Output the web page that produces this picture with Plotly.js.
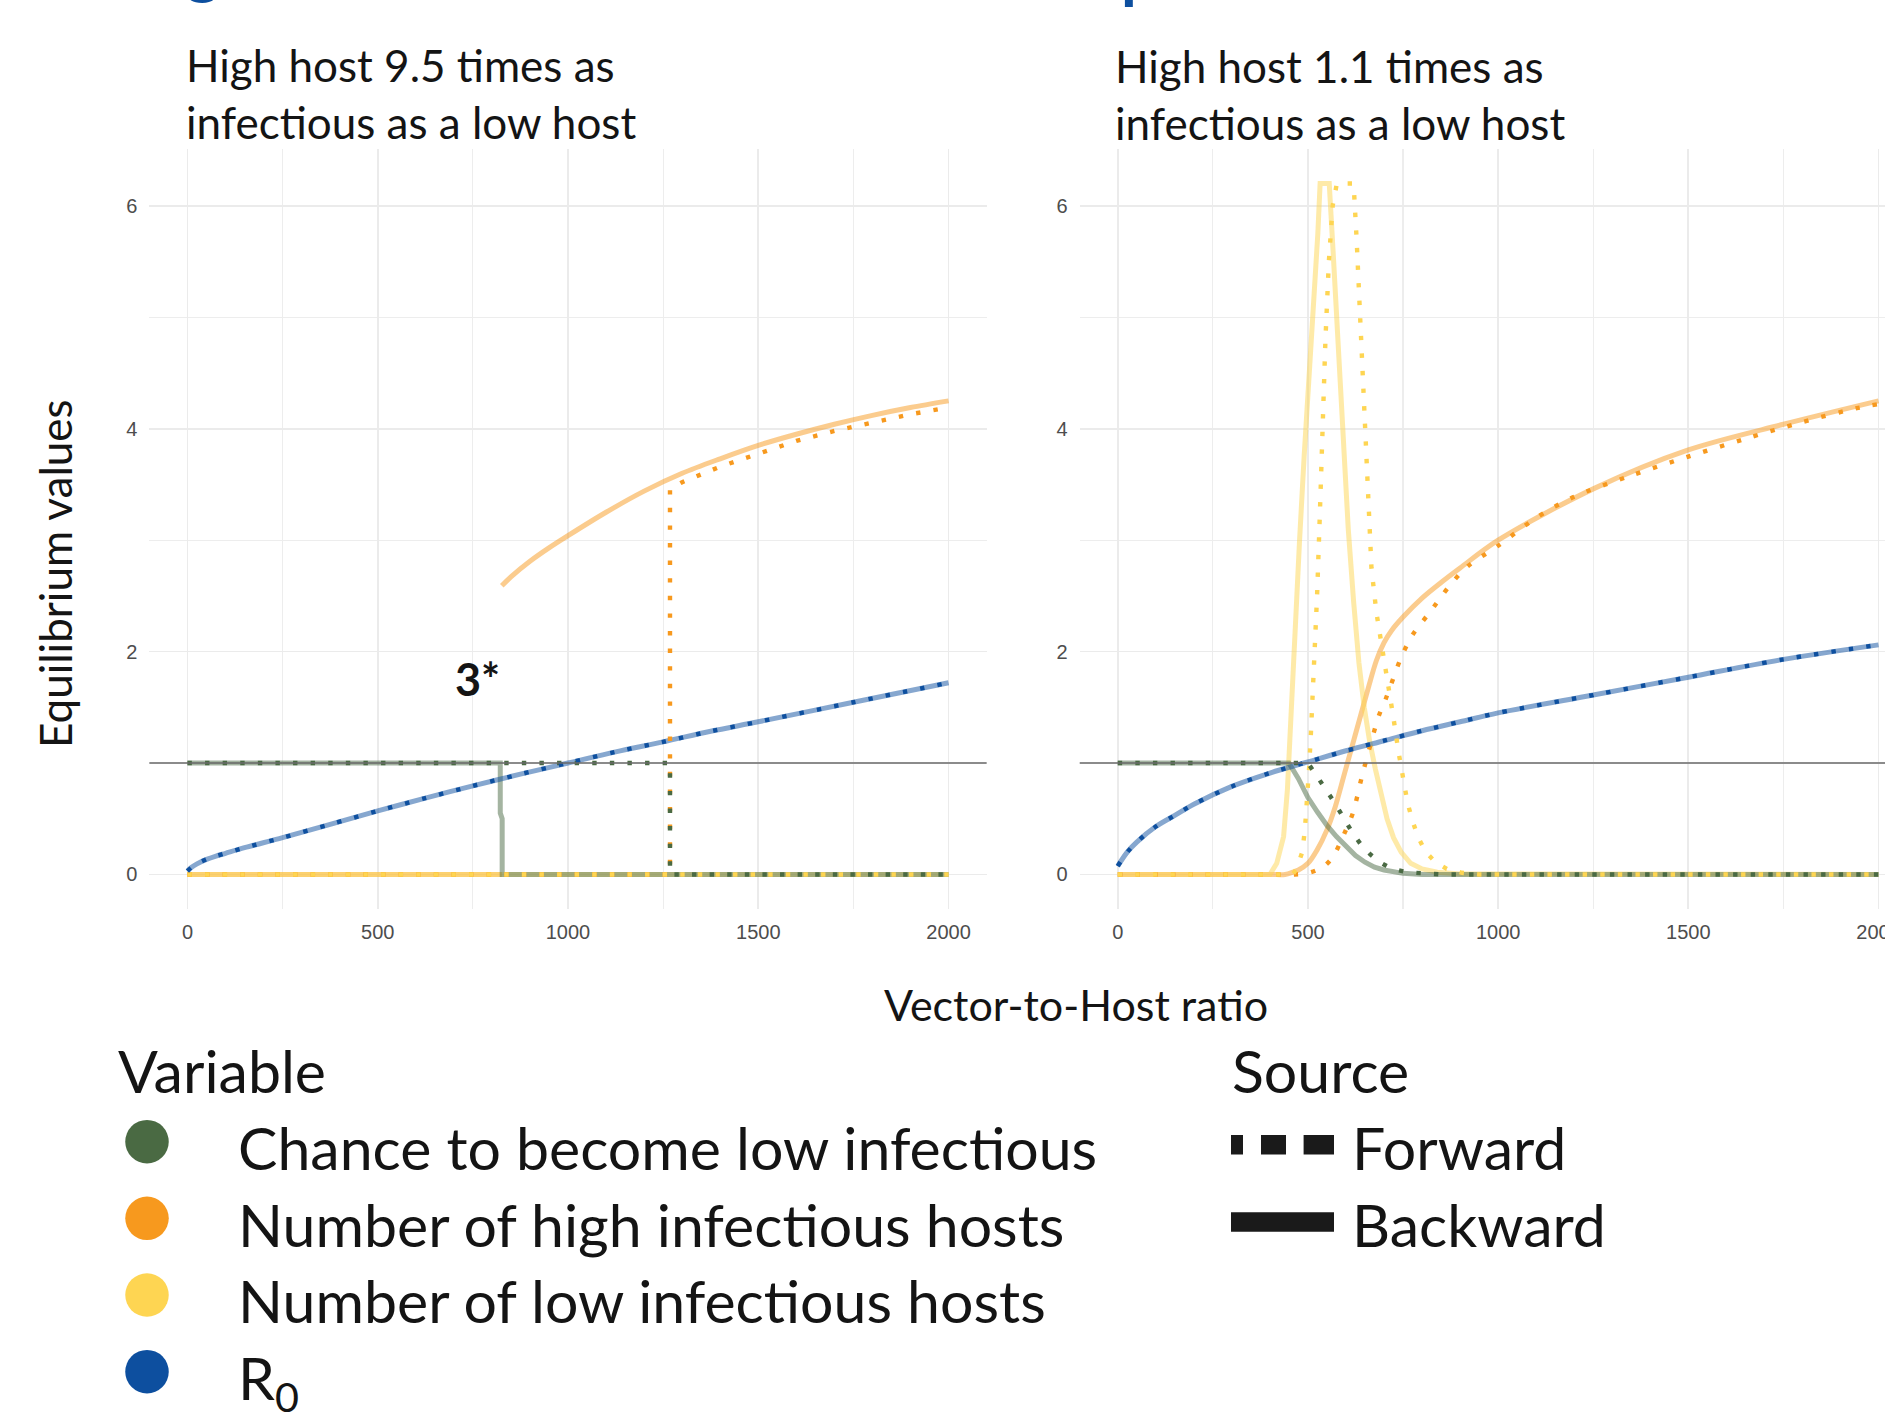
<!DOCTYPE html>
<html>
<head>
<meta charset="utf-8">
<script src="https://cdn.plot.ly/plotly-3.0.1.min.js"></script>
<style>
  html, body { margin: 0; padding: 0; background: #ffffff; }
  #chart { width: 1885px; height: 1412px; }
</style>
</head>
<body>
<div id="chart"></div>
<script>
// ================= DATA =================
const xTickVals = [0, 500, 1000, 1500, 2000];
const yTickVals = [0, 2, 4, 6];
const panelTitles = ["High host 9.5 times as<br>infectious as a low host",
                     "High host 1.1 times as<br>infectious as a low host"];
const xAxisTitle = "Vector-to-Host ratio";
const yAxisTitle = "Equilibrium values";
const variableLegendTitle = "Variable";
const sourceLegendTitle = "Source";
const variableNames = ["Chance to become low infectious", "Number of high infectious hosts",
                       "Number of low infectious hosts", "R<sub>0</sub>"];
const sourceNames = ["Forward", "Backward"];
const noteLabel = "3*";

// ---- Left panel: high host 9.5 times as infectious ----
const leftR0X = [0, 10, 25, 50, 75, 100, 150, 250, 375, 500, 625, 750, 875, 1000, 1125, 1250, 1375, 1500, 1750, 2000];
const leftR0Y = [0.03, 0.062, 0.095, 0.135, 0.165, 0.19, 0.24, 0.33, 0.45, 0.57, 0.685, 0.795, 0.9, 1.0, 1.1, 1.19, 1.285, 1.37, 1.545, 1.72];

const leftChanceBackX = [0, 822, 822, 827, 827, 2000];
const leftChanceBackY = [1, 1, 0.55, 0.5, 0, 0];
const leftChanceFwdX = [0, 1268, 1268, 2000];
const leftChanceFwdY = [1, 1, 0, 0];

const leftHighBackX = [0, 826, 826, 826, 850, 900, 950, 1000, 1100, 1200, 1300, 1400, 1500, 1600, 1700, 1800, 1900, 2000];
const leftHighBackY = [0, 0, null, 2.59, 2.67, 2.81, 2.93, 3.04, 3.25, 3.44, 3.6, 3.73, 3.85, 3.95, 4.04, 4.12, 4.19, 4.25];
const leftHighFwdX = [0, 1268, 1268, 1300, 1400, 1500, 1600, 1700, 1800, 1900, 2000];
const leftHighFwdY = [0, 0, 3.46, 3.52, 3.66, 3.78, 3.89, 3.98, 4.06, 4.13, 4.19];

const leftLowBackX = [0, 2000];
const leftLowBackY = [0, 0];
const leftLowFwdX = [0, 2000];
const leftLowFwdY = [0, 0];

// ---- Right panel: high host 1.1 times as infectious ----
const rightR0X = [0, 25, 50, 100, 150, 200, 300, 400, 500, 600, 700, 800, 900, 1000, 1250, 1500, 1750, 2000];
const rightR0Y = [0.075, 0.2, 0.29, 0.43, 0.53, 0.63, 0.79, 0.91, 1.01, 1.11, 1.2, 1.29, 1.37, 1.45, 1.61, 1.77, 1.93, 2.06];

const rightChanceBackX = [0, 450, 475, 500, 525, 550, 575, 600, 625, 650, 675, 700, 750, 800, 2000];
const rightChanceBackY = [1, 1, 0.86, 0.69, 0.56, 0.44, 0.34, 0.25, 0.17, 0.11, 0.065, 0.04, 0.01, 0, 0];
const rightChanceFwdX = [0, 500, 524, 545, 561, 581, 598, 618, 639, 664, 689, 718, 759, 804, 850, 2000];
const rightChanceFwdY = [1, 1, 0.88, 0.78, 0.69, 0.58, 0.48, 0.37, 0.27, 0.18, 0.11, 0.055, 0.02, 0.007, 0, 0];

const rightHighBackX = [0, 200, 400, 440, 460, 475, 500, 524, 550, 572, 594, 616, 638, 660, 680, 700, 720, 750, 800, 850, 900, 1000, 1250, 1500, 1750, 2000];
const rightHighBackY = [0, 0, 0, 0, 0.02, 0.04, 0.1, 0.22, 0.4, 0.61, 0.88, 1.15, 1.42, 1.69, 1.92, 2.08, 2.19, 2.31, 2.48, 2.62, 2.75, 3.0, 3.46, 3.81, 4.04, 4.25];
const rightHighFwdX = [0, 200, 400, 465, 508, 541, 566, 596, 618, 642, 664, 686, 704, 717, 743, 775, 822, 870, 918, 1000, 1100, 1200, 1350, 1500, 1650, 1800, 1950, 2000];
const rightHighFwdY = [0, 0, 0, 0, 0.02, 0.07, 0.16, 0.37, 0.55, 0.88, 1.16, 1.42, 1.57, 1.69, 1.93, 2.15, 2.36, 2.58, 2.76, 2.95, 3.2, 3.39, 3.58, 3.75, 3.91, 4.06, 4.19, 4.22];

const rightLowBackX = [0, 400, 418, 436, 446, 455, 465, 478, 490, 503, 515, 526, 532, 556, 566, 578, 592, 606, 620, 634, 648, 662, 677, 692, 708, 725, 745, 770, 800, 840, 900, 2000];
const rightLowBackY = [0, 0, 0.1, 0.34, 0.76, 1.45, 2.2, 3.0, 3.75, 4.45, 5.1, 5.75, 6.2, 6.2, 5.6, 4.8, 3.9, 3.1, 2.45, 1.9, 1.5, 1.2, 0.95, 0.72, 0.5, 0.33, 0.2, 0.1, 0.05, 0.02, 0.005, 0];
const rightLowFwdX = [0, 460, 470, 478, 485, 492, 498, 503, 508, 513, 518, 524, 531, 538, 546, 555, 565, 576, 620, 628, 637, 646, 656, 667, 680, 695, 710, 725, 738, 750, 762, 775, 790, 810, 835, 865, 905, 950, 2000];
const rightLowFwdY = [0, 0, 0.05, 0.12, 0.2, 0.4, 0.65, 0.95, 1.28, 1.63, 1.97, 2.5, 3.2, 4.0, 4.8, 5.5, 6.0, 6.2, 6.2, 5.7, 5.0, 4.2, 3.4, 2.75, 2.35, 2.05, 1.75, 1.4, 1.1, 0.85, 0.64, 0.48, 0.33, 0.2, 0.11, 0.05, 0.015, 0, 0];

// ================= STYLE =================
const W = 1885, H = 1412;
const FONT = 'Lato, "Noto Sans", sans-serif';
const TICKFONT = '"Liberation Sans", Arial, sans-serif';
const TEXT = '#141414';
const colVar = ['#4a6a43', '#f7991e', '#fed552', '#0d4f9f'];
const colVarLight = ['rgba(74,106,67,0.5)', 'rgba(247,153,30,0.5)', 'rgba(254,213,82,0.5)', 'rgba(13,79,159,0.5)'];
const px = v => v / W;
const py = v => 1 - v / H;
const topY = (baseline, size) => py(baseline - 2 - 0.987 * size);

function trace(x, y, v, fwd, panel, shape) {
  const ax = panel === 0 ? ['x', 'y'] : ['x2', 'y2'];
  return {
    type: 'scatter', mode: 'lines', x: x, y: y, xaxis: ax[0], yaxis: ax[1],
    showlegend: false, hoverinfo: 'skip', connectgaps: false,
    line: fwd
      ? { color: colVar[v], width: 4.4, dash: '4.4px,13.2px', shape: shape, smoothing: 0.9 }
      : { color: colVarLight[v], width: 5, shape: shape, smoothing: 0.9 }
  };
}

const data = [
  // Backward (solid)
  trace(leftHighBackX, leftHighBackY, 1, false, 0, 'spline'),
  trace(leftLowBackX, leftLowBackY, 2, false, 0, 'linear'),
  trace(leftChanceBackX, leftChanceBackY, 0, false, 0, 'linear'),
  trace(leftR0X, leftR0Y, 3, false, 0, 'spline'),
  trace(rightHighBackX, rightHighBackY, 1, false, 1, 'spline'),
  trace(rightLowBackX, rightLowBackY, 2, false, 1, 'linear'),
  trace(rightChanceBackX, rightChanceBackY, 0, false, 1, 'linear'),
  trace(rightR0X, rightR0Y, 3, false, 1, 'spline'),
  // Forward (dotted)
  trace(leftHighFwdX, leftHighFwdY, 1, true, 0, 'linear'),
  trace(leftLowFwdX, leftLowFwdY, 2, true, 0, 'linear'),
  trace(leftChanceFwdX, leftChanceFwdY, 0, true, 0, 'linear'),
  trace(leftR0X, leftR0Y, 3, true, 0, 'spline'),
  trace(rightHighFwdX, rightHighFwdY, 1, true, 1, 'spline'),
  trace(rightLowFwdX, rightLowFwdY, 2, true, 1, 'linear'),
  trace(rightChanceFwdX, rightChanceFwdY, 0, true, 1, 'linear'),
  trace(rightR0X, rightR0Y, 3, true, 1, 'spline')
];

function xAxis(domain, range, anchor) {
  return {
    domain: domain, range: range, anchor: anchor,
    tickmode: 'array', tickvals: xTickVals, ticktext: xTickVals.map(String),
    showgrid: true, gridcolor: '#ebebeb', gridwidth: 1.8,
    minor: { dtick: 250, tick0: 0, showgrid: true, gridcolor: '#ededed', gridwidth: 1.1, ticks: '' },
    zeroline: false, showline: false, ticks: '',
    tickfont: { family: TICKFONT, size: 20, color: '#4d4d4d' },
    ticklabelstandoff: 9, ticklabeloverflow: 'allow', fixedrange: true
  };
}
function yAxis(anchor) {
  return {
    domain: [py(909), py(149)], range: [-0.31, 6.51], anchor: anchor,
    tickmode: 'array', tickvals: yTickVals, ticktext: yTickVals.map(String),
    showgrid: true, gridcolor: '#ebebeb', gridwidth: 1.8,
    minor: { dtick: 1, tick0: 0, showgrid: true, gridcolor: '#ededed', gridwidth: 1.1, ticks: '' },
    zeroline: false, showline: false, ticks: '',
    tickfont: { family: TICKFONT, size: 20, color: '#4d4d4d' },
    ticklabelstandoff: 11, fixedrange: true
  };
}

const shapes = [
  { type: 'line', xref: 'x domain', yref: 'y', x0: 0, x1: 1, y0: 1, y1: 1, layer: 'above', line: { color: '#6a6a6a', width: 1.3 } },
  { type: 'line', xref: 'x2 domain', yref: 'y2', x0: 0, x1: 1, y0: 1, y1: 1, layer: 'above', line: { color: '#6a6a6a', width: 1.3 } }
];
const circleY = [1141.7, 1218.3, 1295, 1371.7];
colVar.forEach((c, i) => {
  shapes.push({ type: 'circle', xref: 'paper', yref: 'paper', xsizemode: 'pixel', ysizemode: 'pixel',
    xanchor: px(147), yanchor: py(circleY[i]), x0: -21.75, x1: 21.75, y0: -21.75, y1: 21.75,
    fillcolor: c, line: { width: 0 } });
});
// Source keys
shapes.push({ type: 'line', xref: 'paper', yref: 'paper', x0: px(1231), x1: px(1334), y0: py(1144.7), y1: py(1144.7),
  line: { color: '#1a1a1a', width: 19.5, dash: '12px,18px,25px,17.6px,31px,60px' } });
shapes.push({ type: 'line', xref: 'paper', yref: 'paper', x0: px(1231), x1: px(1334), y0: py(1222), y1: py(1222),
  line: { color: '#1a1a1a', width: 19.5 } });

const ann = [];
function txt(text, xPx, baseline, size, opts) {
  ann.push(Object.assign({ text: text, xref: 'paper', yref: 'paper', x: px(xPx), y: topY(baseline, size),
    xanchor: 'left', yanchor: 'top', showarrow: false, font: { family: FONT, size: size, color: TEXT } }, opts || {}));
}
// panel titles
txt(panelTitles[0], 184, 82, 44, { align: 'left' });
txt(panelTitles[1], 1113.4, 83, 44, { align: 'left' });
// axis titles
txt(xAxisTitle, 1076, 1021.7, 43, { xanchor: 'center' });
ann.push({ text: yAxisTitle, xref: 'paper', yref: 'paper', x: px(55), y: py(574), xanchor: 'center', yanchor: 'middle',
  textangle: -90, showarrow: false, font: { family: FONT, size: 44, color: TEXT } });
// 3* note
ann.push({ text: '<b>' + noteLabel + '</b>', xref: 'x', yref: 'y', x: 761, y: 1.75, xanchor: 'center', yanchor: 'middle',
  showarrow: false, font: { family: FONT, size: 45, color: TEXT } });
// legends
txt(variableLegendTitle, 116, 1093, 59);
txt(sourceLegendTitle, 1230, 1093, 59);
const itemBase = [1170.7, 1247.3, 1323.5, 1400];
variableNames.forEach((n, i) => txt(n, 236, itemBase[i], 59));
sourceNames.forEach((n, i) => txt(n, 1350, itemBase[i], 59));
// cut-off heading fragments at the very top
ann.push({ text: '<b>g</b>', xref: 'paper', yref: 'paper', x: px(203), y: topY(-8.0, 64), xanchor: 'center', yanchor: 'top',
  showarrow: false, font: { family: FONT, size: 64, color: '#0d4f9f' } });
ann.push({ text: '<b>p</b>', xref: 'paper', yref: 'paper', x: px(1119), y: topY(-3.0, 64), xanchor: 'left', yanchor: 'top',
  showarrow: false, font: { family: FONT, size: 64, color: '#0d4f9f' } });

const layout = {
  width: W, height: H,
  margin: { l: 0, r: 0, t: 0, b: 0, pad: 0 },
  paper_bgcolor: '#ffffff', plot_bgcolor: '#ffffff',
  showlegend: false,
  xaxis: xAxis([px(149.4), px(986.6)], [-100, 2100], 'y'),
  yaxis: yAxis('x'),
  xaxis2: xAxis([px(1079.7), 1], [-100, 2017], 'y2'),
  yaxis2: yAxis('x2'),
  shapes: shapes,
  annotations: ann
};

Plotly.newPlot('chart', data, layout, { staticPlot: true, displayModeBar: false });
</script>
</body>
</html>
